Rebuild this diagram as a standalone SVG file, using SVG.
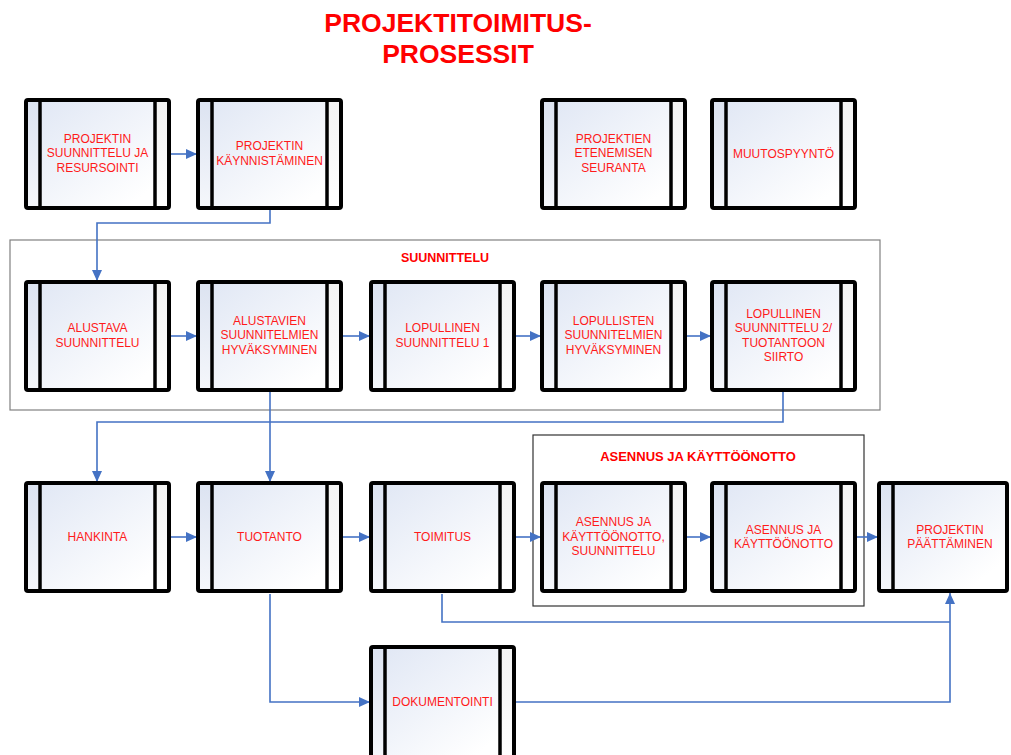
<svg xmlns="http://www.w3.org/2000/svg" width="1011" height="755" viewBox="0 0 1011 755">
<style>
.body{fill:url(#gMain);}
.lp{fill:url(#gLeft);}
.rp{fill:url(#gRight);}
.frame{fill:none;stroke:#000;stroke-width:4;}
.bar{stroke:#000;stroke-width:3.5;}
.lbl{font-family:"Liberation Sans",Arial,sans-serif;font-size:12px;fill:#ff1a1a;text-anchor:middle;}
.ttl{font-family:"Liberation Sans",Arial,sans-serif;font-weight:bold;fill:#ff0000;text-anchor:middle;}
.con{fill:none;stroke:#4472c4;stroke-width:1.6;}
</style>
<defs>
<linearGradient id="gMain" x1="0" y1="0" x2="1" y2="1">
<stop offset="0" stop-color="#dfe6f4"/>
<stop offset="0.85" stop-color="#ffffff"/>
</linearGradient>
<linearGradient id="gLeft" x1="0" y1="0" x2="0" y2="1">
<stop offset="0" stop-color="#dce3f1"/>
<stop offset="1" stop-color="#f5f7fb"/>
</linearGradient>
<linearGradient id="gRight" x1="0" y1="0" x2="0" y2="1">
<stop offset="0" stop-color="#f3f3f3"/>
<stop offset="1" stop-color="#ffffff"/>
</linearGradient>
<marker id="arr" markerUnits="userSpaceOnUse" markerWidth="12" markerHeight="10" refX="11" refY="5" orient="auto">
<path d="M0,0 L11,5 L0,10 z" fill="#4472c4"/>
</marker>
</defs>
<rect width="1011" height="755" fill="#ffffff"/>

<g id="title">
<text class="ttl" x="458" y="32" font-size="26.5">PROJEKTITOIMITUS-</text>
<text class="ttl" x="458" y="63" font-size="26.5">PROSESSIT</text>
</g>

<g id="group-suunnittelu">
<rect x="10" y="240" width="870" height="170" fill="none" stroke="#808080" stroke-width="1.2"/>
<text class="ttl" x="445" y="262" font-size="12.5">SUUNNITTELU</text>
</g>
<g id="group-asennus">
<rect x="533" y="435" width="331" height="171" fill="none" stroke="#333333" stroke-width="1.2"/>
<text class="ttl" x="698" y="461" font-size="13">ASENNUS JA KÄYTTÖÖNOTTO</text>
</g>

<g id="connectors">
<path class="con" d="M170,154 H197" marker-end="url(#arr)"/>
<path class="con" d="M270,210 V223 H97 V281" marker-end="url(#arr)"/>
<path class="con" d="M171,336 H197" marker-end="url(#arr)"/>
<path class="con" d="M343,336 H370" marker-end="url(#arr)"/>
<path class="con" d="M516,336 H541" marker-end="url(#arr)"/>
<path class="con" d="M686,336 H711" marker-end="url(#arr)"/>
<path class="con" d="M270,392 V482" marker-end="url(#arr)"/>
<path class="con" d="M783,392 V422 H97 V482" marker-end="url(#arr)"/>
<path class="con" d="M171,537 H197" marker-end="url(#arr)"/>
<path class="con" d="M343,537 H370" marker-end="url(#arr)"/>
<path class="con" d="M515,537 H541" marker-end="url(#arr)"/>
<path class="con" d="M686,537 H711" marker-end="url(#arr)"/>
<path class="con" d="M856,537 H878" marker-end="url(#arr)"/>
<path class="con" d="M442,594 V622 H950"/>
<path class="con" d="M270,594 V702 H370" marker-end="url(#arr)"/>
<path class="con" d="M516,702 H950 V593" marker-end="url(#arr)"/>
</g>

<g id="n-projektin-suunnittelu">
<rect class="body" x="26" y="100" width="143" height="108"/>
<rect class="lp" x="26" y="100" width="14" height="108"/>
<rect class="rp" x="155" y="100" width="14" height="108"/>
<line class="bar" x1="40" y1="100" x2="40" y2="208"/>
<line class="bar" x1="155" y1="100" x2="155" y2="208"/>
<rect class="frame" x="26" y="100" width="143" height="108" rx="2"/>
<text class="lbl" x="97.5" y="142.5">PROJEKTIN<tspan x="97.5" dy="14.5">SUUNNITTELU JA</tspan><tspan x="97.5" dy="14.5">RESURSOINTI</tspan></text>
</g>

<g id="n-projektin-kaynnistaminen">
<rect class="body" x="198" y="100" width="143" height="108"/>
<rect class="lp" x="198" y="100" width="14" height="108"/>
<rect class="rp" x="327" y="100" width="14" height="108"/>
<line class="bar" x1="212" y1="100" x2="212" y2="208"/>
<line class="bar" x1="327" y1="100" x2="327" y2="208"/>
<rect class="frame" x="198" y="100" width="143" height="108" rx="2"/>
<text class="lbl" x="269.5" y="150">PROJEKTIN<tspan x="269.5" dy="14.5">KÄYNNISTÄMINEN</tspan></text>
</g>

<g id="n-projektien-seuranta">
<rect class="body" x="542" y="100" width="143" height="108"/>
<rect class="lp" x="542" y="100" width="14" height="108"/>
<rect class="rp" x="671" y="100" width="14" height="108"/>
<line class="bar" x1="556" y1="100" x2="556" y2="208"/>
<line class="bar" x1="671" y1="100" x2="671" y2="208"/>
<rect class="frame" x="542" y="100" width="143" height="108" rx="2"/>
<text class="lbl" x="613.5" y="142.5">PROJEKTIEN<tspan x="613.5" dy="14.5">ETENEMISEN</tspan><tspan x="613.5" dy="14.5">SEURANTA</tspan></text>
</g>

<g id="n-muutospyynto">
<rect class="body" x="712" y="100" width="143" height="108"/>
<rect class="lp" x="712" y="100" width="14" height="108"/>
<rect class="rp" x="841" y="100" width="14" height="108"/>
<line class="bar" x1="726" y1="100" x2="726" y2="208"/>
<line class="bar" x1="841" y1="100" x2="841" y2="208"/>
<rect class="frame" x="712" y="100" width="143" height="108" rx="2"/>
<text class="lbl" x="783.5" y="158">MUUTOSPYYNTÖ</text>
</g>

<g id="n-alustava-suunnittelu">
<rect class="body" x="26" y="282" width="143" height="108"/>
<rect class="lp" x="26" y="282" width="14" height="108"/>
<rect class="rp" x="155" y="282" width="14" height="108"/>
<line class="bar" x1="40" y1="282" x2="40" y2="390"/>
<line class="bar" x1="155" y1="282" x2="155" y2="390"/>
<rect class="frame" x="26" y="282" width="143" height="108" rx="2"/>
<text class="lbl" x="97.5" y="332">ALUSTAVA<tspan x="97.5" dy="14.5">SUUNNITTELU</tspan></text>
</g>

<g id="n-alustavien-hyvaksyminen">
<rect class="body" x="198" y="282" width="143" height="108"/>
<rect class="lp" x="198" y="282" width="14" height="108"/>
<rect class="rp" x="327" y="282" width="14" height="108"/>
<line class="bar" x1="212" y1="282" x2="212" y2="390"/>
<line class="bar" x1="327" y1="282" x2="327" y2="390"/>
<rect class="frame" x="198" y="282" width="143" height="108" rx="2"/>
<text class="lbl" x="269.5" y="324.5">ALUSTAVIEN<tspan x="269.5" dy="14.5">SUUNNITELMIEN</tspan><tspan x="269.5" dy="14.5">HYVÄKSYMINEN</tspan></text>
</g>

<g id="n-lopullinen-1">
<rect class="body" x="371" y="282" width="143" height="108"/>
<rect class="lp" x="371" y="282" width="14" height="108"/>
<rect class="rp" x="500" y="282" width="14" height="108"/>
<line class="bar" x1="385" y1="282" x2="385" y2="390"/>
<line class="bar" x1="500" y1="282" x2="500" y2="390"/>
<rect class="frame" x="371" y="282" width="143" height="108" rx="2"/>
<text class="lbl" x="442.5" y="332">LOPULLINEN<tspan x="442.5" dy="14.5">SUUNNITTELU 1</tspan></text>
</g>

<g id="n-lopullisten-hyvaksyminen">
<rect class="body" x="542" y="282" width="143" height="108"/>
<rect class="lp" x="542" y="282" width="14" height="108"/>
<rect class="rp" x="671" y="282" width="14" height="108"/>
<line class="bar" x1="556" y1="282" x2="556" y2="390"/>
<line class="bar" x1="671" y1="282" x2="671" y2="390"/>
<rect class="frame" x="542" y="282" width="143" height="108" rx="2"/>
<text class="lbl" x="613.5" y="324.5">LOPULLISTEN<tspan x="613.5" dy="14.5">SUUNNITELMIEN</tspan><tspan x="613.5" dy="14.5">HYVÄKSYMINEN</tspan></text>
</g>

<g id="n-lopullinen-2">
<rect class="body" x="712" y="282" width="143" height="108"/>
<rect class="lp" x="712" y="282" width="14" height="108"/>
<rect class="rp" x="841" y="282" width="14" height="108"/>
<line class="bar" x1="726" y1="282" x2="726" y2="390"/>
<line class="bar" x1="841" y1="282" x2="841" y2="390"/>
<rect class="frame" x="712" y="282" width="143" height="108" rx="2"/>
<text class="lbl" x="783.5" y="317.5">LOPULLINEN<tspan x="783.5" dy="14.5">SUUNNITTELU 2/</tspan><tspan x="783.5" dy="14.5">TUOTANTOON</tspan><tspan x="783.5" dy="14.5">SIIRTO</tspan></text>
</g>

<g id="n-hankinta">
<rect class="body" x="26" y="483" width="143" height="108"/>
<rect class="lp" x="26" y="483" width="14" height="108"/>
<rect class="rp" x="155" y="483" width="14" height="108"/>
<line class="bar" x1="40" y1="483" x2="40" y2="591"/>
<line class="bar" x1="155" y1="483" x2="155" y2="591"/>
<rect class="frame" x="26" y="483" width="143" height="108" rx="2"/>
<text class="lbl" x="97.5" y="541">HANKINTA</text>
</g>

<g id="n-tuotanto">
<rect class="body" x="198" y="483" width="143" height="108"/>
<rect class="lp" x="198" y="483" width="14" height="108"/>
<rect class="rp" x="327" y="483" width="14" height="108"/>
<line class="bar" x1="212" y1="483" x2="212" y2="591"/>
<line class="bar" x1="327" y1="483" x2="327" y2="591"/>
<rect class="frame" x="198" y="483" width="143" height="108" rx="2"/>
<text class="lbl" x="269.5" y="541">TUOTANTO</text>
</g>

<g id="n-toimitus">
<rect class="body" x="371" y="483" width="143" height="108"/>
<rect class="lp" x="371" y="483" width="14" height="108"/>
<rect class="rp" x="500" y="483" width="14" height="108"/>
<line class="bar" x1="385" y1="483" x2="385" y2="591"/>
<line class="bar" x1="500" y1="483" x2="500" y2="591"/>
<rect class="frame" x="371" y="483" width="143" height="108" rx="2"/>
<text class="lbl" x="442.5" y="541">TOIMITUS</text>
</g>

<g id="n-asennus-suunnittelu">
<rect class="body" x="542" y="483" width="143" height="108"/>
<rect class="lp" x="542" y="483" width="14" height="108"/>
<rect class="rp" x="671" y="483" width="14" height="108"/>
<line class="bar" x1="556" y1="483" x2="556" y2="591"/>
<line class="bar" x1="671" y1="483" x2="671" y2="591"/>
<rect class="frame" x="542" y="483" width="143" height="108" rx="2"/>
<text class="lbl" x="613.5" y="526">ASENNUS JA<tspan x="613.5" dy="14.5">KÄYTTÖÖNOTTO,</tspan><tspan x="613.5" dy="14.5">SUUNNITTELU</tspan></text>
</g>

<g id="n-asennus">
<rect class="body" x="712" y="483" width="143" height="108"/>
<rect class="lp" x="712" y="483" width="14" height="108"/>
<rect class="rp" x="841" y="483" width="14" height="108"/>
<line class="bar" x1="726" y1="483" x2="726" y2="591"/>
<line class="bar" x1="841" y1="483" x2="841" y2="591"/>
<rect class="frame" x="712" y="483" width="143" height="108" rx="2"/>
<text class="lbl" x="783.5" y="533.5">ASENNUS JA<tspan x="783.5" dy="14.5">KÄYTTÖÖNOTTO</tspan></text>
</g>

<g id="n-projektin-paattaminen">
<rect class="body" x="879" y="483" width="128" height="108"/>
<rect class="lp" x="879" y="483" width="14" height="108"/>
<line class="bar" x1="893" y1="483" x2="893" y2="591"/>
<rect class="frame" x="879" y="483" width="128" height="108" rx="2"/>
<text class="lbl" x="950" y="533.5">PROJEKTIN<tspan x="950" dy="14.5">PÄÄTTÄMINEN</tspan></text>
</g>

<g id="n-dokumentointi">
<rect class="body" x="371" y="647" width="143" height="112"/>
<rect class="lp" x="371" y="647" width="14" height="112"/>
<rect class="rp" x="500" y="647" width="14" height="112"/>
<line class="bar" x1="385" y1="647" x2="385" y2="759"/>
<line class="bar" x1="500" y1="647" x2="500" y2="759"/>
<rect class="frame" x="371" y="647" width="143" height="112" rx="2"/>
<text class="lbl" x="442.5" y="706">DOKUMENTOINTI</text>
</g>
</svg>
